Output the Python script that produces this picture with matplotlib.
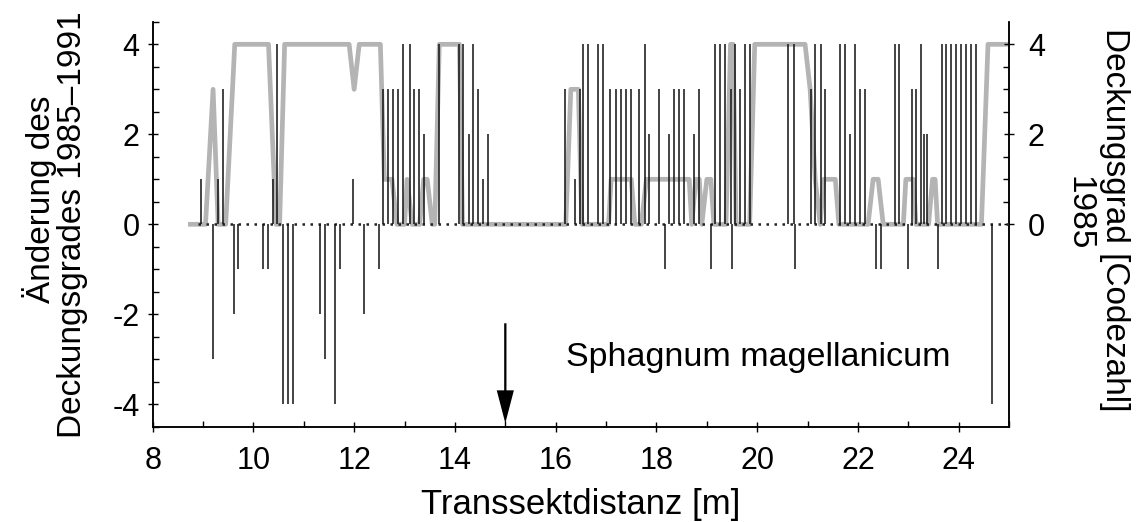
import numpy as np
import matplotlib
matplotlib.use("Agg")
import matplotlib.pyplot as plt
from matplotlib.ticker import FixedLocator, MultipleLocator

plt.rcParams['font.family'] = ['Liberation Sans', 'DejaVu Sans']
plt.rcParams['axes.unicode_minus'] = False

# Deckungsgrad 1985 (grey line), vertices
cover_x = [8.75, 9.05, 9.2, 9.3, 9.45, 9.63, 10.3, 10.45, 10.52, 10.62, 11.9, 12.0, 12.1,
           12.52, 12.6, 12.75, 12.85, 13.0, 13.05, 13.15, 13.3, 13.38, 13.45, 13.55, 13.6,
           13.69, 14.09, 14.15, 16.2, 16.3, 16.45, 16.52, 17.05, 17.1, 17.5, 17.57, 17.7,
           17.8, 18.65, 18.7, 18.78, 18.85, 18.9, 19.0, 19.08, 19.14, 19.38, 19.47, 19.52,
           19.58, 19.85, 19.95, 20.95, 21.05, 21.15, 21.25, 21.32, 21.55, 21.62, 21.9,
           22.2, 22.3, 22.4, 22.5, 22.9, 22.95, 23.1, 23.15, 23.4, 23.48, 23.53, 23.58,
           24.45, 24.58, 25.0]
cover_y = [0, 0, 3, 0, 0, 4, 4, 0, 0, 4, 4, 3, 4,
           4, 1, 1, 0, 0, 1, 0, 0, 1, 1, 0, 0,
           4, 4, 0, 0, 3, 3, 0, 0, 1, 1, 0, 0,
           1, 1, 0, 1, 1, 0, 1, 1, 0, 0, 4, 4,
           0, 0, 4, 4, 3, 1, 0, 1, 1, 0, 0,
           0, 1, 1, 0, 0, 1, 1, 0, 0, 1, 1, 0,
           0, 4, 4]

# Aenderung 1985-1991 (black needles)
change_x = [8.97, 9.20, 9.30, 9.40, 9.62, 9.70, 10.19, 10.29, 10.39, 10.47, 10.59, 10.69,
            10.78, 11.33, 11.43, 11.62, 11.71, 11.97, 12.20, 12.49, 12.57, 12.67, 12.77,
            12.87, 12.96, 13.10, 13.19, 13.29, 13.39, 13.69, 14.09, 14.16, 14.27, 14.36,
            14.46, 14.56, 14.66, 16.18, 16.38, 16.48, 16.55, 16.65, 16.84, 16.94, 17.07,
            17.19, 17.29, 17.39, 17.49, 17.66, 17.77, 17.86, 18.06, 18.16, 18.24, 18.34,
            18.44, 18.54, 18.74, 18.84, 19.09, 19.17, 19.27, 19.37, 19.47, 19.49, 19.56,
            19.66, 19.76, 19.86, 20.62, 20.72, 20.75, 21.07, 21.15, 21.26, 21.35, 21.64,
            21.74, 21.84, 21.94, 22.04, 22.14, 22.35, 22.46, 22.73, 22.81, 23.00, 23.07,
            23.16, 23.26, 23.30, 23.36, 23.58, 23.66, 23.75, 23.85, 23.95, 24.05, 24.15,
            24.25, 24.35, 24.65]
change_v = [1, -3, 1, 3, -2, -1, -1, -1, 1, 4, -4, -4,
            -4, -2, -3, -4, -1, 1, -2, -1, 3, 3, 3,
            3, 4, 4, 3, 3, 2, 4, 4, 4, 2, 4,
            3, 1, 2, 3, 1, 3, 4, 4, 4, 4, 3,
            3, 3, 3, 3, 3, 4, 2, 3, -1, 2, 3,
            3, 3, 2, 3, -1, 4, 4, 4, 3, -1, 4,
            3, 4, 4, 4, 4, -1, 3, 4, 4, 3, 4,
            4, 2, 4, 3, 3, -1, -1, 4, 4, -1, 3,
            3, 4, 2, 2, -1, 4, 4, 4, 4, 4, 4,
            4, 4, -4]

transect = [8.9, 25.0]
arrow_pos = 15.0
arrow_top = -2.2
arrow_tip = -4.42

fig = plt.figure(figsize=(11.39, 5.22), dpi=100)
ax = fig.add_axes([0.134, 0.1824, 0.752, 0.7758])
ax2 = ax.twinx()

ax2.plot(cover_x, cover_y, color='#b4b4b4', lw=3.4, zorder=1)
ax.plot(transect, [0, 0], color='#222222', lw=1.8, ls=(0, (1, 2.2)), zorder=3)
ax.vlines(change_x, 0, change_v, color='#111111', lw=1.1, zorder=4)
ax.set_zorder(ax2.get_zorder() + 1)
ax.patch.set_visible(False)

ax.arrow(arrow_pos, arrow_top, 0, arrow_tip - arrow_top, width=0.045, head_width=0.34,
         head_length=0.73, length_includes_head=True, fc='black', ec='black', lw=0)
ax.text(16.2, -3.14, 'Sphagnum magellanicum', fontsize=24.5, va='baseline', ha='left')

for a in (ax, ax2):
    a.set_xlim(8, 25)
    a.set_ylim(-4.5, 4.5)
    a.spines['top'].set_visible(False)
    for s in a.spines.values():
        s.set_linewidth(1.1)

ax.set_xticks([8, 10, 12, 14, 16, 18, 20, 22, 24])
ax.xaxis.set_minor_locator(MultipleLocator(1))
ax.set_yticks([-4, -2, 0, 2, 4])
ax.yaxis.set_minor_locator(MultipleLocator(0.5))
ax.tick_params(axis='x', which='major', direction='inout', length=7, width=1, labelsize=22, pad=10)
ax.tick_params(axis='x', which='minor', direction='in', length=4, width=1)
ax.tick_params(axis='y', which='major', direction='inout', length=7, width=1, labelsize=22, pad=6)
ax.tick_params(axis='y', which='minor', direction='in', length=4, width=1)

ax2.set_yticks([0, 2, 4])
ax2.yaxis.set_minor_locator(FixedLocator(np.arange(0, 4.01, 0.5)))
ax2.tick_params(axis='y', which='major', direction='inout', length=7, width=1, labelsize=22, pad=10)
ax2.tick_params(axis='y', which='minor', direction='in', length=4, width=1)

ax.set_xlabel('Transsektdistanz [m]', fontsize=25)
ax.xaxis.set_label_coords(0.5, -0.15)

# left label, two lines set separately (first line sits a bit higher)
ax.text(-0.120, 0.5625, 'Änderung des', transform=ax.transAxes, fontsize=24,
        rotation=90, rotation_mode='anchor', ha='center', va='baseline')
ax.text(-0.0842, 0.5, 'Deckungsgrades 1985–1991', transform=ax.transAxes, fontsize=24,
        rotation=90, rotation_mode='anchor', ha='center', va='baseline')

# right label, also two lines
ax2.text(1.1133, 0.5106, 'Deckungsgrad [Codezahl]', transform=ax2.transAxes, fontsize=24,
         rotation=-90, rotation_mode='anchor', ha='center', va='baseline')
ax2.text(1.0713, 0.5274, '1985', transform=ax2.transAxes, fontsize=24,
         rotation=-90, rotation_mode='anchor', ha='center', va='baseline')

fig.savefig('out.png', dpi=100)
